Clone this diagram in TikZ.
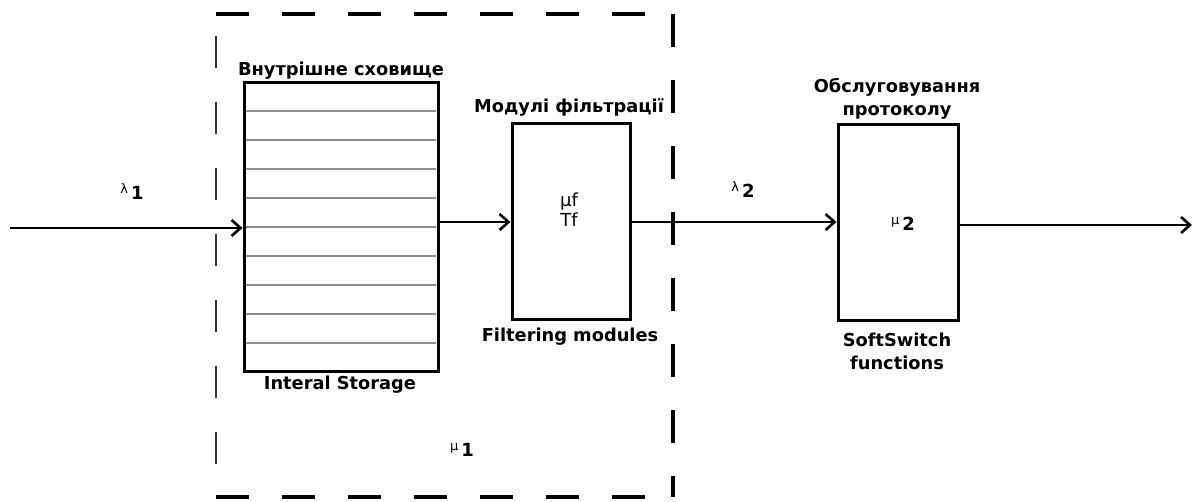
\documentclass[tikz,border=0pt]{standalone}
\usepackage{fontspec}
\setmainfont{DejaVu Sans}
\usetikzlibrary{arrows.meta}
\tikzset{
  blk/.style={draw, line width=3pt, inner sep=0pt},
  lbl/.style={font=\bfseries\fontsize{17.8}{23}\selectfont, inner sep=0pt, align=center},
  sym/.style={font=\fontsize{18}{20}\selectfont, inner sep=0pt, align=center},
  flow/.style={line width=2.8pt, -{Straight Barb[length=9pt,width=16pt,line width=2.6pt]}},
  dashbox/.style={line width=4pt, dash pattern=on 33pt off 33pt},
  dashthin/.style={line width=2.5pt, black!80, dash pattern=on 32pt off 34pt}
}
\newcommand{\smallsym}[1]{\raisebox{6pt}{\fontsize{13}{13}\selectfont #1}}
\begin{document}
\begin{tikzpicture}[x=1pt,y=-1pt]
\useasboundingbox (0,0) rectangle (1194,502);
% dashed boundary
\draw[dashbox] (216,14) -- (673,14);
\draw[dashbox] (673,14) -- (673,497);
\draw[dashbox] (216,497) -- (673,497);
\draw[dashthin] (216,36) -- (216,497);
% boxes
\node[blk, minimum width=194pt, minimum height=289pt] (st) at (341,227.5) {};
\node[blk, minimum width=118pt, minimum height=196pt] (fm) at (571,222) {};
\node[blk, minimum width=120pt, minimum height=196pt] (ss) at (898,223) {};
% storage lines
\foreach \y in {111,140,169,198,227,256,285,314,343}
  \draw[line width=1.4pt, black!45] (246,\y) -- (436,\y);
% labels
\node[lbl] (stt) at (341,71) {Внутрішне сховище};
\node[lbl] (stb) at (340,385) {Interal Storage};
\node[lbl] (fmt) at (569,108) {Модулі фільтрації};
\node[lbl] (fmb) at (570,337) {Filtering modules};
\node[lbl] (sst) at (897,99) {Обслуговування\\протоколу};
\node[lbl] (ssb) at (897,351) {SoftSwitch\\functions};
\node[sym] (fin) at (569,210) {μf\\Tf};
\node[sym] (m2) at (903,224) {\smallsym{μ}\,\textbf{2}};
\node[sym] (m1) at (462,450) {\smallsym{μ}\,\textbf{1}};
\node[sym] (l1) at (132,192) {\smallsym{λ}\,\textbf{1}};
\node[sym] (l2) at (743,190) {\smallsym{λ}\,\textbf{2}};
% connectors
\coordinate (in) at (10,228);
\coordinate (out) at (1192,225);
\draw[flow] (in) -- (st.west |- in);
\draw[flow] (st.east |- fm.west) -- (fm.west);
\draw[flow] (fm.east) -- (ss.west |- fm.east);
\draw[flow] (ss.east |- out) -- (out);
\end{tikzpicture}
\end{document}
